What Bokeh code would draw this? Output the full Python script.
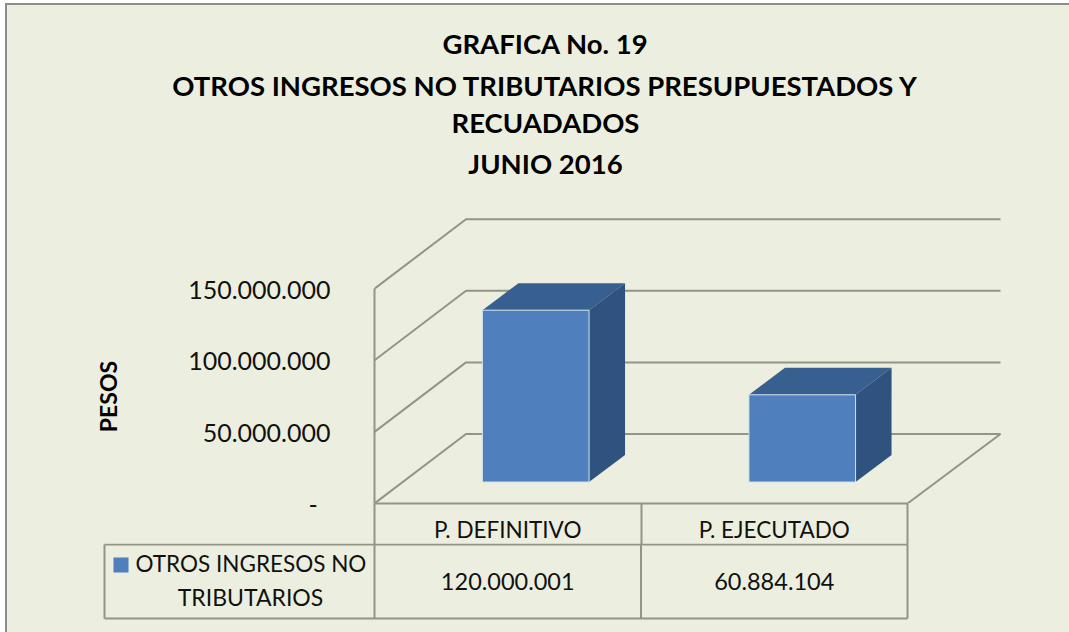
import math
from bokeh.plotting import figure
from bokeh.layouts import column
from bokeh.models import Label, FixedTicker
from bokeh.core.properties import value
from bokeh.embed import file_html
from bokeh.resources import INLINE

# ---- data ----
categories = ["P. DEFINITIVO", "P. EJECUTADO"]
values = [120000001, 60884104]
series_name = ["OTROS INGRESOS NO", "TRIBUTARIOS"]
y_ticks = [0, 50000000, 100000000, 150000000]
y_tick_labels = ["-\u00a0\u00a0", "50.000.000", "100.000.000", "150.000.000"]
title_lines = ["GRAFICA No. 19", "OTROS INGRESOS NO TRIBUTARIOS PRESUPUESTADOS Y", "RECUADADOS", "JUNIO 2016"]
y_title = "PESOS"

# ---- geometry (page pixels of the reference) ----
BG, GRID = "#ecefdf", "#929486"
FRONT, TOP, SIDE = "#4f7fbc", "#375f90", "#30527e"
FONT = "Lato"
X0_PX, Y0_PX = 374.0, 503.0      # where x=0 and y=0 sit on the page
CAT_PX, PER_50M = 266.5, 71.6    # pixels per category, pixels per 50M
FIG_X, FIG_Y = 7, 5              # page position of the figures (inside the 2px border)
FR_R, FR_T = 1006, 214           # right / top edge of the frame
SPLIT, TABLE_Y = 553, 543        # bottom of the chart figure, top of the table figure

def dx(px): return (px - X0_PX) / CAT_PX
def dy(py): return (Y0_PX - py) * 50000000 / PER_50M

W, H = 1069 - FIG_X, SPLIT - FIG_Y
p = figure(width=W, height=H, output_backend="svg", toolbar_location=None,
           x_range=(0, dx(FR_R)), y_range=(0, dy(FR_T)),
           min_border_left=int(X0_PX - FIG_X), min_border_right=W - (FR_R - FIG_X),
           min_border_top=FR_T - FIG_Y, min_border_bottom=H - (int(Y0_PX) - FIG_Y),
           frame_align=False,
           background_fill_color=None, border_fill_color=None, outline_line_color=None)
p.grid.visible = False

# depth of the 3-D box and of the columns
DEPTH_X, DEPTH_Y = dx(X0_PX + 91.5), dy(Y0_PX - 69.5)
BAR_DX, BAR_DY = dx(X0_PX + 28), dy(Y0_PX - 21.5)
COL_DX, COL_DY = dx(X0_PX + 36), dy(Y0_PX - 27)
BAR_W = 0.4
END_X = dx(1000)

# walls and floor
for t in y_ticks:
    p.line([0, DEPTH_X, END_X], [t, t + DEPTH_Y, t + DEPTH_Y], line_color=GRID, line_width=2)
p.line([END_X, 2], [DEPTH_Y, 0], line_color=GRID, line_width=2)

# columns
for i, v in enumerate(values):
    c = i + 0.5 + BAR_DX
    l, r = c - BAR_W / 2, c + BAR_W / 2
    b, t = BAR_DY, v + BAR_DY
    p.patch([l, r, r + COL_DX, l + COL_DX], [t, t, t + COL_DY, t + COL_DY], fill_color=TOP, line_color=None)
    p.patch([r, r + COL_DX, r + COL_DX, r], [b, b + COL_DY, t + COL_DY, t], fill_color=SIDE, line_color=None)
    p.patch([l, r, r, l], [b, b, t, t], fill_color=FRONT, line_color="#cfe0ea", line_width=1)

# axes
ya = p.yaxis[0]
ya.ticker = FixedTicker(ticks=y_ticks)
ya.major_label_overrides = dict(zip(y_ticks, y_tick_labels))
ya.bounds = (0, y_ticks[-1])
ya.axis_line_color = GRID
ya.axis_line_width = 2
ya.major_tick_line_color = None
ya.minor_tick_line_color = None
ya.major_tick_out = 0
ya.major_label_standoff = 44
ya.major_label_text_font = FONT
ya.major_label_text_font_size = "25px"
ya.major_label_text_color = "#111111"

xa = p.xaxis[0]
xa.ticker = FixedTicker(ticks=[0.5, 1.5], minor_ticks=[0, 1, 2])
xa.major_label_overrides = {0.5: categories[0], 1.5: categories[1]}
xa.bounds = (0, 2)
xa.axis_line_color = GRID
xa.axis_line_width = 2
xa.major_tick_line_color = None
xa.major_tick_out = 0
xa.minor_tick_line_color = GRID
xa.minor_tick_line_width = 2
xa.minor_tick_out = 41
xa.minor_tick_in = 0
xa.major_label_standoff = -29
xa.major_label_text_font = FONT
xa.major_label_text_font_size = "22.5px"
xa.major_label_text_color = "#111111"

def label(s, px, py, size, panel="above", angle=0):
    p.add_layout(Label(x=dx(px), y=dy(py), text=s, text_font=FONT, text_font_size=size, angle=angle,
                       text_font_style="bold", text_align="center",
                       text_baseline="middle", text_color="#000000"), panel)

# title and axis title
for s, py in zip(title_lines, [43, 85, 122, 163]):
    label(s, 545, py, "27.5px")
label(y_title, 107, 396, "23px", panel="left", angle=math.pi / 2)

# ---- data table: second figure on the same x and y scales ----
q = figure(width=W, height=632 - TABLE_Y, output_backend="svg", toolbar_location=None,
           x_range=(dx(FIG_X), dx(1069)), y_range=(dy(632), dy(TABLE_Y)),
           x_axis_location=None, y_axis_location=None, min_border=0,
           frame_align=False,
           margin=(TABLE_Y - SPLIT, 0, 0, 0),
           background_fill_color=None, border_fill_color=None, outline_line_color=None)
q.grid.visible = False

T_L, T_T, T_B = dx(104), dy(544), dy(618)
col_edges = [T_L, 0, 1, 2]
q.segment(col_edges, [T_T] * 4, col_edges, [T_B] * 4, line_color=GRID, line_width=2)
q.segment([T_L, T_L], [T_T, T_B], [2, 2], [T_T, T_B], line_color=GRID, line_width=2)
q.quad(left=[dx(113)], right=[dx(128)], top=[dy(557)], bottom=[dy(572)], fill_color=FRONT, line_color=None)

def table_text(xs, py, strs, size, align):
    q.text(x=xs, y=[dy(py)] * len(xs), text=strs, text_font=value(FONT), text_font_size=value(size),
           text_align=align, text_baseline="middle", text_color="#111111")

table_text([dx(135)], 563, [series_name[0]], "22.5px", "left")
table_text([dx(250)], 596, [series_name[1]], "23px", "center")
table_text([i + 0.5 for i in range(len(values))], 581,
           [f"{v:,}".replace(",", ".") for v in values], "23.5px", "center")

page = column(p, q, margin=(FIG_Y - 2, 0, 0, FIG_X - 2), spacing=0,
              styles={"background-color": BG, "border-left": "2px solid #8c8c8c",
                      "border-top": "2px solid #8c8c8c"})

open("out.html", "w").write(file_html(page, INLINE))
